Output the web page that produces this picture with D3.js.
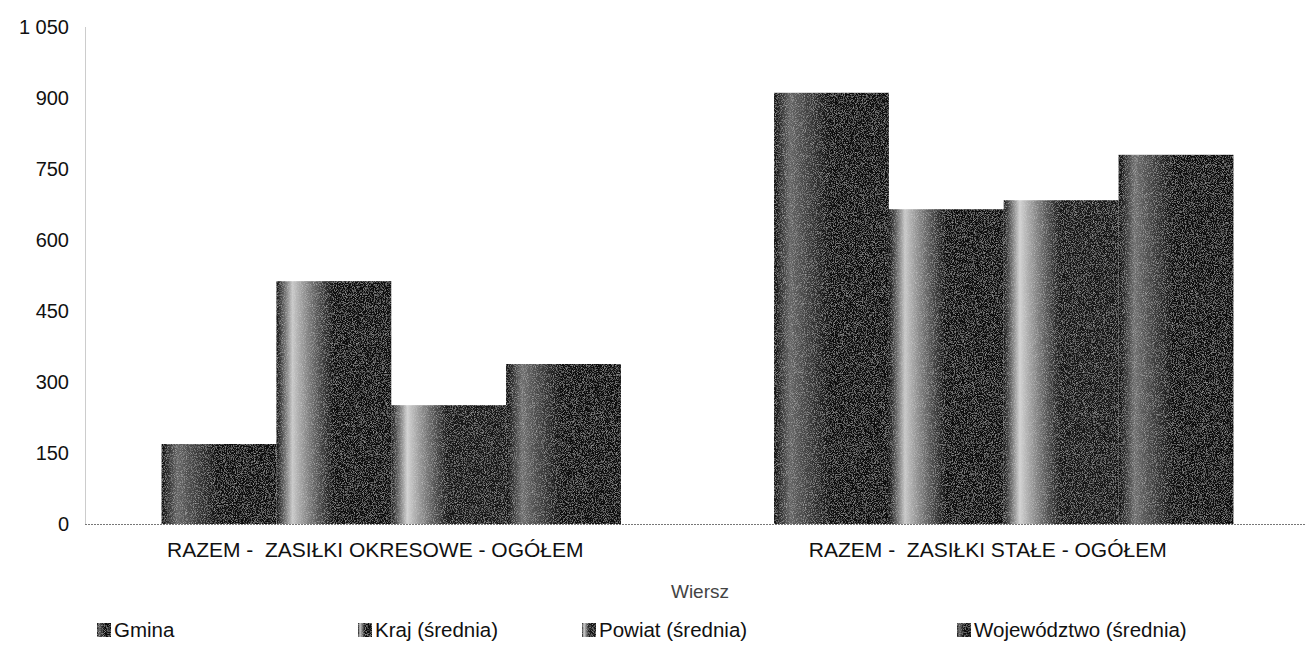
<!DOCTYPE html>
<html>
<head>
<meta charset="utf-8">
<script src="https://cdn.jsdelivr.net/npm/d3@7"></script>
<style>
body { margin: 0; background: #fff; }
text { font-family: "Liberation Sans", Arial, sans-serif; white-space: pre; }
</style>
</head>
<body>
<div class="container"></div>
<script>
const wd = 1306
const ht = 648

const categories = ["RAZEM -  ZASIŁKI OKRESOWE - OGÓŁEM", "RAZEM -  ZASIŁKI STAŁE - OGÓŁEM"]
const seriesNames = ["Gmina", "Kraj (średnia)", "Powiat (średnia)", "Województwo (średnia)"]
const gmina = [169, 911]
const kraj = [513, 665]
const powiat = [251, 684]
const wojewodztwo = [338, 780]
const yTicks = [0, 150, 300, 450, 600, 750, 900, 1050]

const seriesValues = [gmina, kraj, powiat, wojewodztwo]
// grey tones of the scan: [light band, dark body]
const tones = [["#666", "#0c0c0c"], ["#c8c8c8", "#0e0e0e"], ["#d2d2d2", "#141414"], ["#707070", "#080808"]]

const svgC = d3.select(".container")
.append("svg")
.attr("width", wd)
.attr("height", ht)

const defs = svgC.append("defs")
tones.forEach((t, i) => {
  const g = defs.append("linearGradient").attr("id", "grad" + i)
  .attr("x1", "0%").attr("x2", "100%").attr("y1", "0%").attr("y2", "0%")
  g.append("stop").attr("offset", "0%").attr("stop-color", t[1])
  g.append("stop").attr("offset", "14%").attr("stop-color", t[0])
  g.append("stop").attr("offset", "50%").attr("stop-color", t[1])
  g.append("stop").attr("offset", "100%").attr("stop-color", t[1])
})

// grainy scan look
const filt = defs.append("filter").attr("id", "grain")
filt.append("feTurbulence").attr("type", "fractalNoise").attr("baseFrequency", 1.1).attr("numOctaves", 2).attr("result", "noise")
filt.append("feColorMatrix").attr("in", "noise").attr("type", "matrix")
.attr("values", "0 0 0 0 0  0 0 0 0 0  0 0 0 0 0  0 0 0 -2 1.05").attr("result", "specks")
filt.append("feComposite").attr("in", "specks").attr("in2", "SourceGraphic").attr("operator", "in").attr("result", "sp")
filt.append("feColorMatrix").attr("in", "sp").attr("type", "matrix")
.attr("values", "0 0 0 0 0.75  0 0 0 0 0.75  0 0 0 0 0.75  0 0 0 0.55 0").attr("result", "lightSpecks")
filt.append("feMerge").selectAll("feMergeNode").data(["SourceGraphic", "lightSpecks"]).join("feMergeNode").attr("in", d => d)

const yScale = d3.scaleLinear()
.domain([0, 1050])
.range([524, 27])

const xScale = d3.scaleBand()
.domain(categories)
.range([85, 1310])
.paddingInner(0.25)
.paddingOuter(0.125)

const xSub = d3.scaleBand()
.domain(seriesNames)
.range([0, xScale.bandwidth()])

// y axis
const yAxis = svgC.append("g")
.attr("transform", "translate(85,0)")
.call(d3.axisLeft(yScale).tickValues(yTicks).tickSize(0).tickPadding(16)
  .tickFormat(d => d3.format(",")(d).replace(",", " ")))
yAxis.select(".domain").attr("stroke", "#999").attr("stroke-dasharray", "1,1")
yAxis.selectAll("text").style("font-size", "20px").attr("fill", "#111")

// bars
categories.forEach((c, ci) => {
  seriesNames.forEach((s, si) => {
    svgC.append("rect")
    .attr("x", xScale(c) + xSub(s))
    .attr("y", yScale(seriesValues[si][ci]))
    .attr("width", xSub.bandwidth())
    .attr("height", yScale(0) - yScale(seriesValues[si][ci]))
    .attr("fill", "url(#grad" + si + ")")
    .attr("filter", "url(#grain)")
  })
})

// baseline
svgC.append("line")
.attr("x1", 85).attr("x2", wd)
.attr("y1", yScale(0) + 0.5).attr("y2", yScale(0) + 0.5)
.attr("stroke", "#777").attr("stroke-dasharray", "2,1")

// x axis labels
const xAxis = svgC.append("g")
.attr("transform", "translate(0," + yScale(0) + ")")
.call(d3.axisBottom(xScale).tickSize(0).tickPadding(18))
xAxis.select(".domain").remove()
xAxis.selectAll("text").style("font-size", "21px").attr("fill", "#111").attr("dx", "-16")

svgC.append("text")
.attr("x", 700).attr("y", 598)
.attr("text-anchor", "middle")
.style("font-size", "19px").attr("fill", "#444")
.text("Wiersz")

// legend
const legendX = [97, 358, 582, 957]
const legend = svgC.append("g")
seriesNames.forEach((s, i) => {
  legend.append("rect")
  .attr("x", legendX[i]).attr("y", 623)
  .attr("width", 14).attr("height", 14)
  .attr("fill", "url(#grad" + i + ")")
  .attr("filter", "url(#grain)")
  legend.append("text")
  .attr("x", legendX[i] + 17).attr("y", 637)
  .style("font-size", "20.5px").attr("fill", "#111")
  .text(s)
})
</script>
</body>
</html>
